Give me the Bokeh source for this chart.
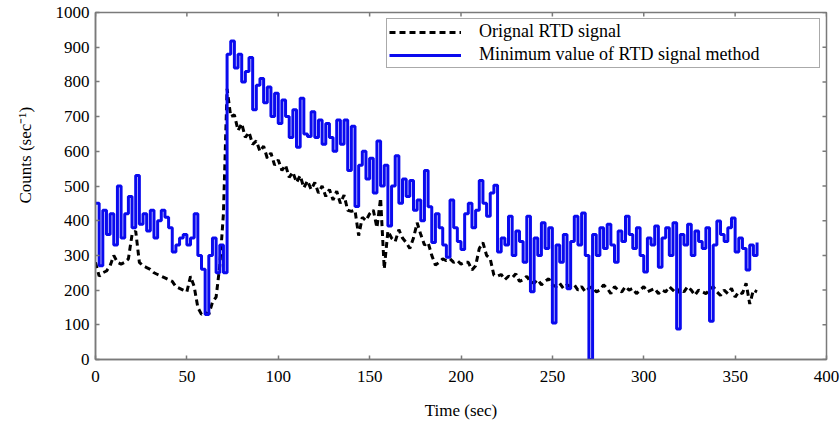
import math
from bokeh.plotting import figure
from bokeh.models import Range1d, FixedTicker, Legend, Title
from bokeh.embed import file_html
from bokeh.resources import INLINE

# ---- data (2 s sampling) ----
time_sec = list(range(0, 364, 2))

orig_rtd = [280, 240, 250, 255, 270, 300, 280, 275, 280, 290,
            360, 370, 280, 270, 265, 260, 250, 245, 240, 235,
            230, 225, 210, 205, 200, 195, 240, 210, 150, 130,
            135, 130, 165, 180, 270, 420, 780, 700, 705, 660,
            680, 640, 655, 620, 630, 600, 615, 580, 595, 560,
            575, 545, 560, 525, 540, 510, 530, 495, 515, 490,
            510, 480, 500, 470, 490, 460, 485, 450, 474, 430,
            427, 430, 357, 410, 400, 420, 431, 380, 465, 261,
            370, 350, 340, 374, 350, 337, 320, 350, 394, 360,
            330, 337, 300, 272, 280, 290, 285, 290, 280, 285,
            275, 280, 280, 258, 270, 320, 337, 300, 290, 243,
            240, 245, 230, 240, 235, 247, 225, 230, 240, 224,
            220, 230, 215, 225, 233, 215, 210, 220, 205, 215,
            210, 215, 200, 210, 195, 205, 210, 195, 200, 215,
            205, 190, 210, 200, 195, 210, 200, 205, 190, 200,
            210, 195, 200, 205, 190, 200, 195, 210, 200, 190,
            205, 195, 210, 200, 185, 200, 195, 190, 200, 210,
            195, 185, 200, 190, 205, 180, 195, 190, 220, 160,
            200, 195]

min_value = [450, 270, 430, 360, 420, 330, 500, 350, 420, 470,
             380, 530, 390, 420, 370, 430, 350, 400, 430, 410,
             380, 310, 330, 350, 360, 330, 350, 420, 300, 260,
             130, 300, 350, 250, 330, 250, 880, 918, 840, 880,
             800, 830, 870, 720, 790, 810, 740, 785, 700, 767,
             680, 748, 700, 640, 720, 612, 753, 650, 643, 714,
             640, 690, 620, 680, 640, 600, 690, 620, 690, 545,
             672, 441, 560, 600, 520, 580, 480, 630, 500, 560,
             385, 500, 587, 450, 520, 470, 516, 430, 460, 400,
             545, 440, 337, 420, 380, 330, 295, 460, 380, 340,
             317, 420, 450, 380, 430, 516, 450, 413, 480, 502,
             310, 350, 330, 413, 300, 370, 340, 280, 413, 195,
             350, 300, 394, 320, 380, 105, 330, 280, 360, 204,
             340, 413, 330, 422, 300, 0, 360, 300, 380, 320,
             390, 330, 280, 370, 340, 413, 360, 320, 380, 300,
             252, 350, 330, 385, 266, 350, 380, 300, 394, 88,
             360, 330, 390, 300, 370, 340, 320, 380, 110, 330,
             399, 360, 340, 380, 408, 310, 350, 320, 258, 330,
             300, 337]

x_ticks = [0, 50, 100, 150, 200, 250, 300, 350, 400]
y_ticks = [0, 100, 200, 300, 400, 500, 600, 700, 800, 900, 1000]

series_names = ["Orignal RTD signal", "Minimum value of RTD signal method"]
x_title = "Time (sec)"
y_title = "Counts (sec\u207b\u00b9)"

FONT = "Liberation Serif"
GRAY = "#7a7a7a"

p = figure(width=840, height=427, output_backend="svg", toolbar_location=None,
           x_range=Range1d(x_ticks[0], x_ticks[-1]),
           y_range=Range1d(y_ticks[0], y_ticks[-1]),
           min_border_left=94, min_border_right=14,
           min_border_top=12, min_border_bottom=68,
           background_fill_color="white", border_fill_color="white")

p.xgrid.visible = False
p.ygrid.visible = False
p.outline_line_color = GRAY
p.outline_line_width = 1.5

r_orig = p.line(time_sec, orig_rtd, line_color="black", line_width=3,
                line_dash="6 4")
r_min = p.step(time_sec, min_value, line_color="#0a0aee", line_width=3,
               mode="after")

# inward ticks on the right and top edges of the box
p.scatter([x_ticks[-1]] * len(y_ticks), y_ticks, marker="dash", size=8,
          line_color=GRAY, line_width=1.5)
p.scatter(x_ticks, [y_ticks[-1]] * len(x_ticks), marker="dash", size=8,
          angle=math.pi / 2, line_color=GRAY, line_width=1.5)

for ax in (p.xaxis[0], p.yaxis[0]):
    ax.axis_line_color = GRAY
    ax.axis_line_width = 1.5
    ax.major_tick_line_color = GRAY
    ax.major_tick_line_width = 1.5
    ax.major_tick_in = 4
    ax.major_tick_out = 0
    ax.minor_tick_line_color = None
    ax.major_label_text_font = FONT
    ax.major_label_text_font_size = "17px"
    ax.major_label_text_color = "black"
    ax.axis_label_text_font = FONT
    ax.axis_label_text_font_size = "17px"
    ax.axis_label_text_font_style = "normal"
    ax.axis_label_text_color = "black"

p.xaxis[0].ticker = FixedTicker(ticks=x_ticks)
p.yaxis[0].ticker = FixedTicker(ticks=y_ticks)
p.xaxis[0].axis_label = x_title
p.xaxis[0].major_label_standoff = 11
p.yaxis[0].major_label_standoff = 6
p.xaxis[0].axis_label_standoff = 16

ytitle = Title(text=y_title, align="left", vertical_align="top",
               offset=156, standoff=31,
               text_font=FONT, text_font_size="17px",
               text_font_style="normal", text_color="black")
p.add_layout(ytitle, "left")

legend = Legend(items=[(series_names[0], [r_orig]), (series_names[1], [r_min])],
                location="top_right")
legend.margin = 6
legend.padding = 2
legend.spacing = 2
legend.label_height = 20
legend.glyph_height = 20
legend.glyph_width = 72
legend.label_standoff = 18
legend.label_width = 338
legend.label_text_font = FONT
legend.label_text_font_size = "18px"
legend.label_text_color = "black"
legend.border_line_color = "#555555"
legend.border_line_width = 1.5
legend.background_fill_color = "white"
legend.background_fill_alpha = 1.0
p.add_layout(legend, "center")

open("out.html", "w").write(file_html(p, INLINE))
